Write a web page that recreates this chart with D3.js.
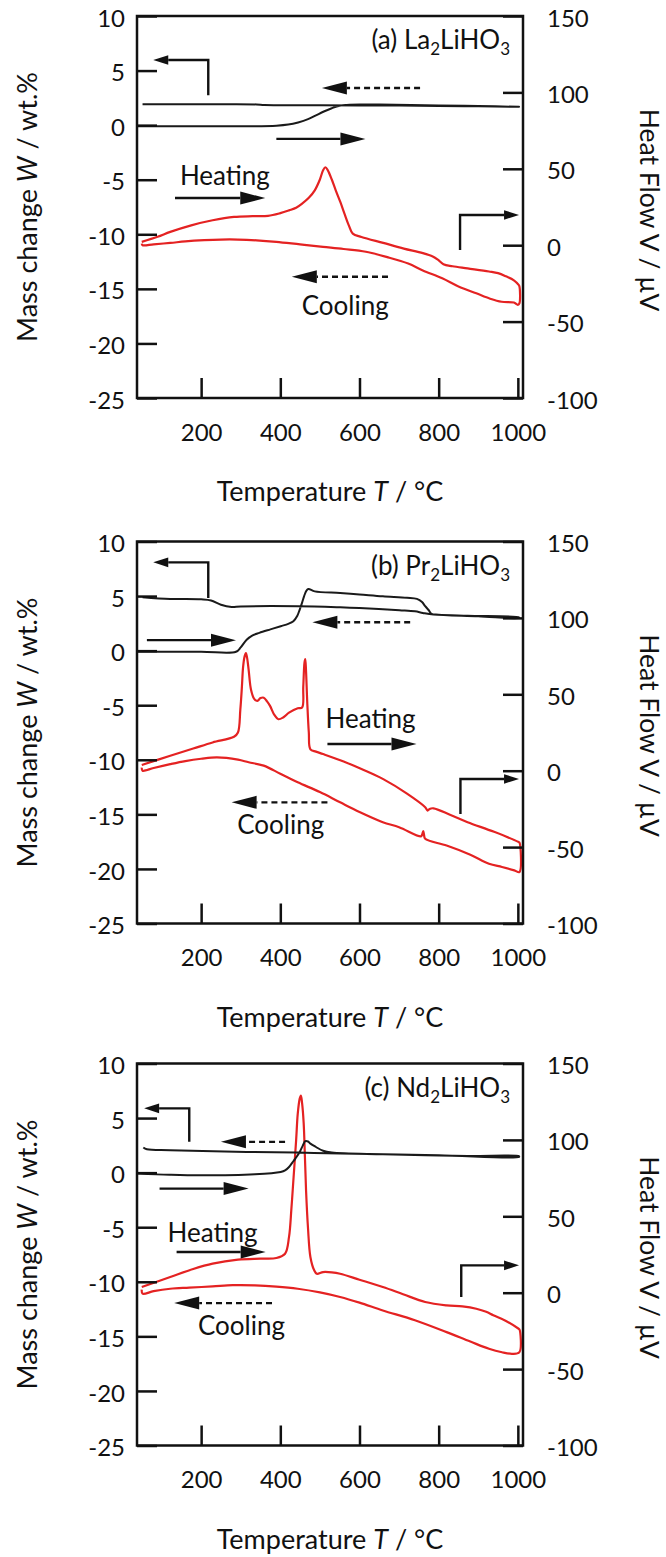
<!DOCTYPE html>
<html><head><meta charset="utf-8">
<script src="https://cdn.jsdelivr.net/npm/d3@7"></script>
<style>
body{margin:0;background:#fff}
svg{display:block}
text{font-family:Lato,"Open Sans",sans-serif;fill:#111}
</style>
</head><body>
<svg id="chart" width="666" height="1557"></svg>
<script>
// ---------- ticks ----------
const tempTicks = [200, 400, 600, 800, 1000];
const massTicks = [10, 5, 0, -5, -10, -15, -20, -25];
const heatTicks = [150, 100, 50, 0, -50, -100];

// ---------- (a) La2LiHO3 ----------
const laMassHeating = [[40,-0.1],[150,-0.1],[300,-0.1],[390,-0.05],[420,0.05],[445,0.25],[470,0.55],[490,0.9],[510,1.25],[530,1.55],[550,1.78],[575,1.88],[650,1.88],[800,1.8],[900,1.75],[1003,1.68]];
const laMassCooling = [[1003,1.68],[900,1.72],[800,1.76],[650,1.8],[500,1.82],[360,1.84],[340,1.9],[200,1.91],[52,1.91]];
const laHeatHeating = [[50,2.2],[90,5.5],[122,8.7],[175,13],[229,16.3],[283,18.5],[330,19],[369,19.2],[400,21],[422,22.8],[440,24.5],[455,27.2],[472,31],[487,35.9],[500,43],[508,49],[514,51],[520,49],[530,43],[540,35.9],[552,28],[562,20.7],[573,13],[583,7.6],[605,5.4],[660,1.5],[712,-2.2],[760,-5.2],[785,-7.4],[798,-9.5],[812,-12.5],[835,-13.8],[873,-15.2],[927,-17.2],[950,-18.3],[970,-20.4],[990,-23],[1002,-26]];
const laHeatCooling = [[1004,-27],[1004,-38],[1000,-39],[990,-37.5],[959,-37],[930,-35],[895,-31.5],[850,-27],[809,-21.7],[760,-16.5],[723,-12],[670,-7.8],[616,-4.3],[560,-2.5],[508,-1.1],[450,0.5],[390,2.2],[340,3.2],[293,3.7],[250,3.7],[208,3.3],[160,2.5],[122,1.5],[80,0.6],[52,0],[50,1]];

// ---------- (b) Pr2LiHO3 ----------
const prMassHeating = [[40,-0.1],[200,-0.1],[288,-0.1],[300,0.3],[315,1.0],[330,1.4],[347,1.63],[375,1.95],[401,2.24],[420,2.45],[433,2.7],[443,3.2],[449,3.76],[455,4.4],[460,4.98],[466,5.5],[471,5.65],[487,5.43],[551,5.28],[600,5.15],[659,4.98],[720,4.85],[745,4.74],[758,4.45],[766,4.07],[775,3.7],[782,3.37],[800,3.3],[873,3.2],[1003,3.05]];
const prMassCooling = [[1003,3.0],[900,3.15],[787,3.3],[760,3.45],[740,3.6],[701,3.7],[600,3.9],[551,3.97],[444,4.07],[300,4.05],[277,4.0],[250,4.2],[225,4.6],[200,4.7],[122,4.74],[52,4.9]];
const prHeatHeating = [[50,3.7],[122,9.8],[180,14.5],[229,18.5],[283,22.2],[293,25],[299,40],[303,55],[306,68],[310,75],[313,77],[316,74],[320,66],[326,53],[334,47],[342,45.7],[350,47.5],[358,47.8],[366,45.5],[374,42.4],[385,36.5],[395,33.7],[408,35],[422,38],[444,40.9],[455,41.3],[458,55],[461,70.6],[463,73],[465,65],[468,45],[472,25],[476,14],[490,12.5],[508,10.9],[560,6],[605,1.1],[660,-5.5],[720,-15],[766,-23.9],[772,-26.1],[777,-25],[787,-24.6],[830,-29],[873,-33.7],[940,-40],[1002,-46.7]];
const prHeatCooling = [[1004,-47],[1004,-66.3],[991,-65.2],[960,-63],[927,-60.9],[880,-55],[820,-49],[766,-44.6],[763,-42],[761,-39.5],[758,-42],[755,-43],[700,-37],[659,-33.7],[600,-27],[551,-20.7],[500,-14],[444,-7.6],[400,-2],[358,3.3],[320,5.5],[293,7.2],[240,8.7],[200,7.8],[160,6.3],[122,4.3],[80,1.8],[52,0],[50,2]];

// ---------- (c) Nd2LiHO3 ----------
const ndMassHeating = [[40,-0.09],[120,-0.2],[200,-0.25],[336,-0.15],[401,0.06],[412,0.2],[422,0.52],[430,0.9],[438,1.29],[449,1.9],[457,2.5],[463,2.88],[470,2.85],[476,2.66],[490,2.35],[508,2.0],[530,1.84],[659,1.68],[873,1.53],[1003,1.5]];
const ndMassCooling = [[1003,1.44],[800,1.6],[551,1.75],[444,1.84],[315,1.9],[122,2.05],[63,2.14],[54,2.3]];
const ndHeatHeating = [[50,3.7],[122,10.3],[180,15.5],[229,19],[293,21.6],[350,22.3],[390,22.7],[412,25.5],[422,36.5],[428,55],[433,73.6],[440,100],[444,117],[449,127],[452,129],[455,124],[459,111],[462,90],[465,67],[470,42],[476,23.4],[485,15],[492,12.4],[508,13.5],[530,13.3],[551,12.4],[600,8.5],[659,3.7],[710,-1],[766,-6.1],[820,-8.3],[860,-9],[895,-10.5],[920,-12.5],[938,-14.8],[970,-18.5],[1002,-23.6]];
const ndHeatCooling = [[1004,-24],[1004,-38.9],[986,-40],[960,-39],[927,-36.7],[880,-32],[820,-25.8],[740,-18],[659,-11.6],[600,-6.5],[551,-2.8],[500,0.2],[444,2.6],[390,4],[336,4.8],[280,4.9],[229,4.1],[170,3.3],[122,2.6],[80,1],[52,-0.65],[50,2]];

// ---------- annotations (data units: T, and W or V) ----------
const panels = [
  { letter:"(a)", el:"La", massH:laMassHeating, massC:laMassCooling, heatH:laHeatHeating, heatC:laHeatCooling,
    massElbow:[[218,2.75],[218,5.97],[79,5.97]], heatElbow:[[854,-3.1],[854,19.8],[1003,19.8]],
    massSolid:[[390,-1.26],[615,-1.26]], massDashed:[[753,3.4],[505,3.4]],
    heatingArrow:{axis:"W",pts:[[134,-6.68],[362,-6.68]]}, heatingText:{axis:"W",t:260,v:-4.55},
    coolingArrow:{axis:"V",pts:[[672,-20.6],[429,-20.6]]}, coolingText:{axis:"V",t:564,v:-39} },
  { letter:"(b)", el:"Pr", massH:prMassHeating, massC:prMassCooling, heatH:prHeatHeating, heatC:prHeatCooling,
    massElbow:[[218,4.82],[218,8.09],[79,8.09]], heatElbow:[[855,-28.3],[855,-5.4],[1003,-5.4]],
    massSolid:[[63,0.96],[288,0.96]], massDashed:[[728,2.6],[481,2.6]],
    heatingArrow:{axis:"W",pts:[[519,-8.56],[744,-8.56]]}, heatingText:{axis:"W",t:628,v:-6.13},
    coolingArrow:{axis:"V",pts:[[519,-20.7],[277,-20.7]]}, coolingText:{axis:"V",t:401,v:-34.8} },
  { letter:"(c)", el:"Nd", massH:ndMassHeating, massC:ndMassCooling, heatH:ndHeatHeating, heatC:ndHeatCooling,
    massElbow:[[170,2.83],[170,5.89],[56,5.89]], heatElbow:[[857,-2.8],[857,17.9],[1003,17.9]],
    massSolid:[[95,-1.46],[320,-1.46]], massDashed:[[412,2.82],[250,2.82]],
    heatingArrow:{axis:"W",pts:[[138,-7.27],[363,-7.27]]}, heatingText:{axis:"W",t:229,v:-5.44},
    coolingArrow:{axis:"V",pts:[[379,-6.8],[132,-6.8]]}, coolingText:{axis:"V",t:302,v:-21.4} }
];

// ---------- layout ----------
const L = 137, R = 523, H = 382;
const panelTops = [16, 541.5, 1063.5];
const svg = d3.select("#chart");
const x = d3.scaleLinear().domain([38, 1013]).range([L, R]);
const fmt = d => String(d);

function drawArrow(g, pts, opts) {
  const n = pts.length;
  const [xa, ya] = pts[n-2], [xb, yb] = pts[n-1];
  const ang = Math.atan2(yb - ya, xb - xa);
  const c = Math.cos(ang), s = Math.sin(ang);
  const base = [xb - opts.len*c, yb - opts.len*s];
  const shaft = pts.slice(0, n-1).concat([base]);
  g.append("path").attr("d", d3.line()(shaft))
    .attr("fill","none").attr("stroke","#111").attr("stroke-width",2.4)
    .attr("stroke-dasharray", opts.dashed ? "6,4" : null);
  const hw = opts.w;
  g.append("path").attr("d", d3.line()([[xb,yb],[base[0]-hw*s, base[1]+hw*c],[base[0]+hw*s, base[1]-hw*c]]) + "Z")
    .attr("fill","#111");
}

panels.forEach((p, i) => {
  const top = panelTops[i], bot = top + H;
  const yM = d3.scaleLinear().domain([-25, 10]).range([bot, top]);
  const yH = d3.scaleLinear().domain([-100, 150]).range([bot, top]);
  const g = svg.append("g");

  // curves
  const lineM = d3.line().x(d => x(d[0])).y(d => yM(d[1])).curve(d3.curveCatmullRom.alpha(0.5));
  const lineH = d3.line().x(d => x(d[0])).y(d => yH(d[1])).curve(d3.curveCatmullRom.alpha(0.5));
  g.append("path").attr("d", lineH(p.heatH.concat(p.heatC)))
    .attr("fill","none").attr("stroke","#e42222").attr("stroke-width",2.2).attr("stroke-linejoin","round");
  g.append("path").attr("d", lineM(p.massH.concat(p.massC)))
    .attr("fill","none").attr("stroke","#1a1a1a").attr("stroke-width",2).attr("stroke-linejoin","round");

  // ticks (inward)
  const tk = g.append("g");
  tk.append("g").attr("transform",`translate(${L},0)`)
    .call(d3.axisRight(yM).tickValues(massTicks).tickSize(20).tickFormat(""));
  tk.append("g").attr("transform",`translate(${R},0)`)
    .call(d3.axisLeft(yH).tickValues(heatTicks).tickSize(20).tickFormat(""));
  tk.append("g").attr("transform",`translate(0,${bot})`)
    .call(d3.axisTop(x).tickValues(tempTicks).tickSize(20).tickFormat(""));
  tk.selectAll(".domain").remove();
  tk.selectAll("line").attr("stroke","#111").attr("stroke-width",2.5);

  // tick labels
  const lab = g.append("g");
  const la = lab.append("g").attr("transform",`translate(${L},0)`)
    .call(d3.axisLeft(yM).tickValues(massTicks).tickSize(0).tickPadding(12).tickFormat(fmt));
  const ra = lab.append("g").attr("transform",`translate(${R},0)`)
    .call(d3.axisRight(yH).tickValues(heatTicks).tickSize(0).tickPadding(24).tickFormat(fmt));
  const ba = lab.append("g").attr("transform",`translate(0,${bot})`)
    .call(d3.axisBottom(x).tickValues(tempTicks).tickSize(0).tickPadding(34).tickFormat(fmt));
  lab.selectAll(".domain").remove();
  lab.selectAll("text").attr("font-size",24).attr("font-family","Lato").attr("fill","#111");
  la.selectAll("text").attr("dy","0.42em");
  ra.selectAll("text").attr("dy","0.42em");
  ba.selectAll("text").attr("dy","0.36em");

  // frame
  g.append("rect").attr("x",L).attr("y",top).attr("width",R-L).attr("height",H)
    .attr("fill","none").attr("stroke","#111").attr("stroke-width",2.5);

  // axis titles
  const lt = g.append("text").attr("transform",`translate(26,${top+191}) rotate(-90)`)
    .attr("text-anchor","middle").attr("dominant-baseline","central").attr("font-size",27);
  lt.append("tspan").text("Mass change ");
  lt.append("tspan").attr("font-style","italic").text("W");
  lt.append("tspan").text(" / wt.%");
  g.append("text").attr("transform",`translate(650,${top+194}) rotate(90)`)
    .attr("text-anchor","middle").attr("dominant-baseline","central").attr("font-size",26.5)
    .text("Heat Flow V / \u00b5V");
  const bt = g.append("text").attr("x",330).attr("y",top+474)
    .attr("text-anchor","middle").attr("dominant-baseline","central").attr("font-size",27);
  bt.append("tspan").text("Temperature ");
  bt.append("tspan").attr("font-style","italic").text("T");
  bt.append("tspan").text(" / \u00b0C");

  // panel title
  const tt = g.append("text").attr("x",510).attr("y",top+33).attr("text-anchor","end").attr("font-size",26);
  tt.append("tspan").text(`${p.letter} ${p.el}`);
  tt.append("tspan").attr("font-size",17).attr("dy",6).text("2");
  tt.append("tspan").attr("dy",-6).text("LiHO");
  tt.append("tspan").attr("font-size",17).attr("dy",6).text("3");

  // annotations
  const ann = g.append("g");
  const pm = a => a.map(d => [x(d[0]), yM(d[1])]);
  const ph = a => a.map(d => [x(d[0]), yH(d[1])]);
  const small = {len:15, w:4.8}, big = {len:25, w:6.5};
  drawArrow(ann, pm(p.massElbow), small);
  drawArrow(ann, ph(p.heatElbow), small);
  drawArrow(ann, pm(p.massSolid), big);
  drawArrow(ann, pm(p.massDashed), Object.assign({dashed:true}, big));
  const hy = p.heatingArrow.axis === "W" ? pm : ph;
  drawArrow(ann, hy(p.heatingArrow.pts), big);
  const cy = p.coolingArrow.axis === "W" ? pm : ph;
  drawArrow(ann, cy(p.coolingArrow.pts), Object.assign({dashed:true}, big));
  const hs = p.heatingText.axis === "W" ? yM : yH;
  ann.append("text").attr("x", x(p.heatingText.t)).attr("y", hs(p.heatingText.v))
    .attr("text-anchor","middle").attr("dominant-baseline","central").attr("font-size",26).text("Heating");
  const cs = p.coolingText.axis === "W" ? yM : yH;
  ann.append("text").attr("x", x(p.coolingText.t)).attr("y", cs(p.coolingText.v))
    .attr("text-anchor","middle").attr("dominant-baseline","central").attr("font-size",26).text("Cooling");
});
</script>
</body></html>
